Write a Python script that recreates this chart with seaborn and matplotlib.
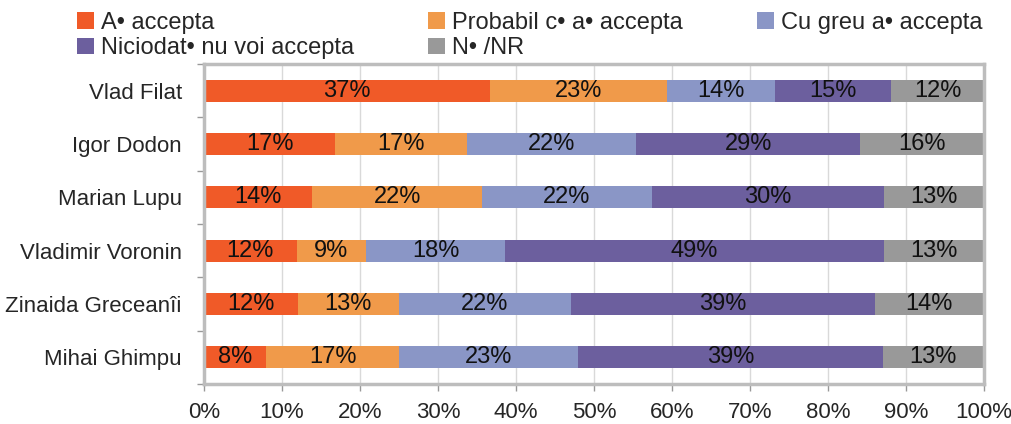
"""
stacked 100% bar chart of candidate acceptance, saved to out.png
"""
import numpy as np
import matplotlib.pyplot as plt
import seaborn as sns
from matplotlib.patches import Patch

CANDIDATES = ['Vlad Filat', 'Igor Dodon', 'Marian Lupu', 'Vladimir Voronin',
              'Zinaida Greceanîi', 'Mihai Ghimpu']
CATEGORIES = ['A• accepta', 'Probabil c• a• accepta', 'Cu greu a• accepta',
              'Niciodat• nu voi accepta', 'N• /NR']
ACCEPT = [37, 17, 14, 12, 12, 8]
PROBABLY = [23, 17, 22, 9, 13, 17]
HARDLY = [14, 22, 22, 18, 22, 23]
NEVER = [15, 29, 30, 49, 39, 39]
DONT_KNOW = [12, 16, 13, 13, 14, 13]
X_TICKS = [0, 10, 20, 30, 40, 50, 60, 70, 80, 90, 100]

COLORS = ['#F05A28', '#F09A4A', '#8A96C6', '#6C5F9E', '#999999']

sns.set_theme(style='white')
plt.rcParams['font.family'] = ['Liberation Sans', 'DejaVu Sans']

values = np.array([ACCEPT, PROBABLY, HARDLY, NEVER, DONT_KNOW], dtype=float)
shares = values / values.sum(axis=0) * 100  # bars fill to 100%
cum = np.cumsum(shares, axis=0)

fig = plt.figure(figsize=(10.11, 4.24), dpi=100)
ax = fig.add_axes([0.2018, 0.0943, 0.7715, 0.7547])

# draw back to front so every segment shows its own part
for i in range(len(CATEGORIES) - 1, -1, -1):
    sns.barplot(x=cum[i], y=CANDIDATES, color=COLORS[i], orient='h',
                width=0.41, saturation=1, ax=ax, zorder=2, linewidth=0)

for i in range(len(CATEGORIES)):
    for j in range(len(CANDIDATES)):
        center = cum[i, j] - shares[i, j] / 2
        ax.text(center, j, f'{int(values[i, j])}%', ha='center', va='center',
                fontsize=17, color='#111111', zorder=3)

ax.set_xlim(0, 100)
ax.set_ylim(5.5, -0.5)
ax.set_xticks(X_TICKS)
ax.set_xticklabels([f'{t}%' for t in X_TICKS], fontsize=16)
ax.set_yticks(range(len(CANDIDATES)))
ax.set_yticklabels(CANDIDATES, fontsize=16)
ax.set_yticks(np.arange(-0.5, 6, 1), minor=True)
ax.set_xlabel('')
ax.set_ylabel('')
ax.grid(axis='x', color='#D9D9D9', linewidth=1, zorder=0)
ax.set_axisbelow(True)

for spine in ax.spines.values():
    spine.set_visible(True)
    spine.set_color('#BDBDBD')
    spine.set_linewidth(2.5)

ax.tick_params(axis='y', which='major', length=0, pad=16)
ax.tick_params(axis='y', which='minor', left=True, length=5, color='#999999', width=1)
ax.tick_params(axis='x', which='major', bottom=True, length=5, color='#999999',
               width=1, pad=8)

handles = [Patch(facecolor=c, edgecolor='none') for c in COLORS]
order = [0, 3, 1, 4, 2]  # legend fills by column, reorder for rows
fig.legend([handles[k] for k in order], [CATEGORIES[k] for k in order],
           ncol=3, loc='lower left', bbox_to_anchor=(0.074, 0.855, 0.9, 0.14),
           mode='expand', frameon=False, fontsize=17, handlelength=0.7,
           handleheight=0.7, handletextpad=0.3, labelspacing=0.15,
           borderaxespad=0, borderpad=0.1)

fig.savefig('out.png', dpi=100)
